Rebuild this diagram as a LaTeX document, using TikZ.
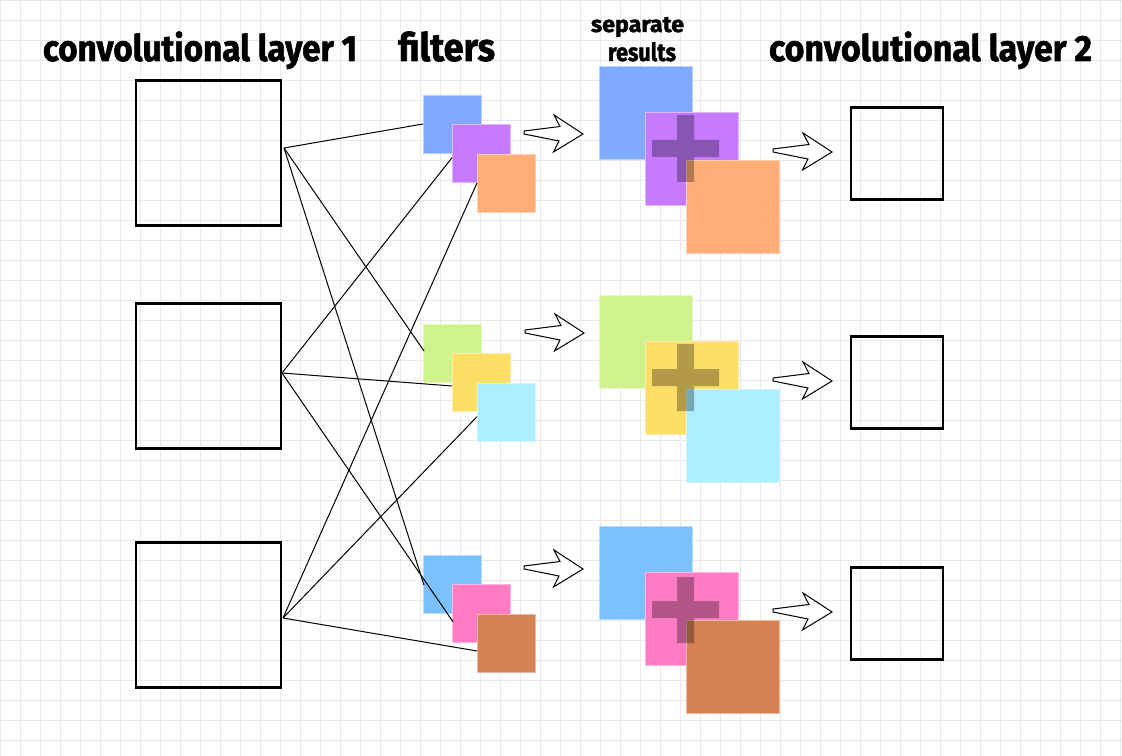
\documentclass[tikz,border=0pt]{standalone}
\usepackage{fontspec}
\usepackage{graphicx}
\newfontfamily\titlefont{Fira Sans}[BoldFeatures={FakeBold=1.6}]
\usetikzlibrary{calc}
\definecolor{gridc}{RGB}{233,233,233}
\definecolor{cBlueA}{RGB}{127,170,255}
\definecolor{cPurple}{RGB}{197,122,255}
\definecolor{cOrange}{RGB}{255,173,118}
\definecolor{cGreen}{RGB}{208,242,141}
\definecolor{cYellow}{RGB}{255,222,102}
\definecolor{cCyan}{RGB}{170,238,255}
\definecolor{cBlueB}{RGB}{123,192,255}
\definecolor{cPink}{RGB}{255,123,196}
\definecolor{cBrown}{RGB}{214,130,85}
\begin{document}
\begin{tikzpicture}[x=0.75pt,y=-0.75pt,
  layerbox/.style={draw=black, line width=1.6pt, inner sep=0, outer sep=0},
  bigbox/.style={layerbox, minimum size=108.75pt},
  smallbox/.style={layerbox, minimum size=69pt},
  filt/.style={draw=#1!55!white, fill=#1, line width=0.6pt, minimum size=43.5pt, inner sep=0, outer sep=0},
  res/.style={draw=#1!55!white, fill=#1, line width=0.6pt, minimum size=69.75pt, inner sep=0, outer sep=0},
  conn/.style={draw=black, line width=0.75pt},
  gridline/.style={draw=gridc, line width=0.75pt},
  arrowshape/.style={draw=black, fill=white, line width=0.75pt, line join=miter},
  plusshape/.style={fill=black, fill opacity=0.3},
  title/.style={anchor=base west, inner sep=0, outer sep=0},
  blockarrow/.pic={\path[arrowshape] (0,0) -- (-29.5,18) -- (-24,7) -- (-59,0) -- (-59,-3) -- (-23,-7.5) -- (-29,-19) -- cycle;}
]
\fill[white] (0,0) rectangle (1122,756);
\useasboundingbox (0,0) rectangle (1122,756);
% grid
\foreach \x in {0,20,...,1120} \draw[gridline] (\x+0.5,0) -- (\x+0.5,756);
\foreach \y in {0,20,...,740} \draw[gridline] (0,\y+0.5) -- (1122,\y+0.5);

% convolutional layer 1
\node[bigbox] (L1) at (208.5,153) {};
\node[bigbox] (L2) at (208.5,376) {};
\node[bigbox] (L3) at (208.5,615) {};

% filters
\node[filt=cBlueA]  (f11) at (452,124) {};
\node[filt=cPurple] (f12) at (481,153) {};
\node[filt=cOrange] (f13) at (506,183) {};
\node[filt=cGreen]  (f21) at (452,353) {};
\node[filt=cYellow] (f22) at (481,382) {};
\node[filt=cCyan]   (f23) at (506,412) {};
\node[filt=cBlueB]  (f31) at (452,584) {};
\node[filt=cPink]   (f32) at (481,613) {};
\node[filt=cBrown]  (f33) at (506,643) {};

% connectors
\coordinate (o1) at (284,148);
\coordinate (o2) at (282,373);
\coordinate (o3) at (283,618);
\draw[conn] (o1) -- (f11.west);
\draw[conn] (o1) -- ($(f21.west)+(1,-2)$);
\draw[conn] (o1) -- ($(f31.west)+(1,1)$);
\draw[conn] (o2) -- ($(f12.west)+(0,4.7)$);
\draw[conn] (o2) -- ($(f22.west)+(0,4)$);
\draw[conn] (o2) -- ($(f32.west)+(1,8.7)$);
\draw[conn] (o3) -- (f13.west);
\draw[conn] (o3) -- ($(f23.west)+(0,4.7)$);
\draw[conn] (o3) -- ($(f33.west)+(0,8)$);

% separate results
\node[res=cBlueA]  (r11) at (646,112.5) {};
\node[res=cPurple] (r12) at (692,159) {};
\node[res=cOrange] (r13) at (732.5,207) {};
\node[res=cGreen]  (r21) at (646,341.5) {};
\node[res=cYellow] (r22) at (692,388) {};
\node[res=cCyan]   (r23) at (732.5,436) {};
\node[res=cBlueB]  (r31) at (646,572.5) {};
\node[res=cPink]   (r32) at (692,619) {};
\node[res=cBrown]  (r33) at (732.5,667) {};

% plus signs
\path[plusshape] (677,115) rectangle (694,182) (652,140) rectangle (719,157);
\path[plusshape] (677,344) rectangle (694,411) (652,369) rectangle (719,386);
\path[plusshape] (677,577) rectangle (694,643) (652,601) rectangle (719,618);

% block arrows
\pic (a11) at (583,134) {blockarrow};
\pic (a21) at (584,333) {blockarrow};
\pic (a31) at (583,569) {blockarrow};
\pic (a12) at (832,152) {blockarrow};
\pic (a22) at (832,381) {blockarrow};
\pic (a32) at (832,612) {blockarrow};

% convolutional layer 2
\node[smallbox] (M1) at (897,153.5) {};
\node[smallbox] (M2) at (897,382.5) {};
\node[smallbox] (M3) at (897,613.5) {};

% titles
\node[title] (t1) at (43,61) {\resizebox{235.5pt}{22.2pt}{\titlefont\bfseries convolutional layer 1}};
\node[title] (t2) at (398,61) {\resizebox{72.75pt}{22.2pt}{\titlefont\bfseries filters}};
\node[title] (t3) at (591,32) {\resizebox{69.75pt}{11.25pt}{\titlefont\bfseries separate}};
\node[title] (t4) at (608,61) {\resizebox{51pt}{14.25pt}{\titlefont\bfseries results}};
\node[title] (t5) at (769,61) {\resizebox{242.25pt}{22.2pt}{\titlefont\bfseries convolutional layer 2}};
\end{tikzpicture}
\end{document}
